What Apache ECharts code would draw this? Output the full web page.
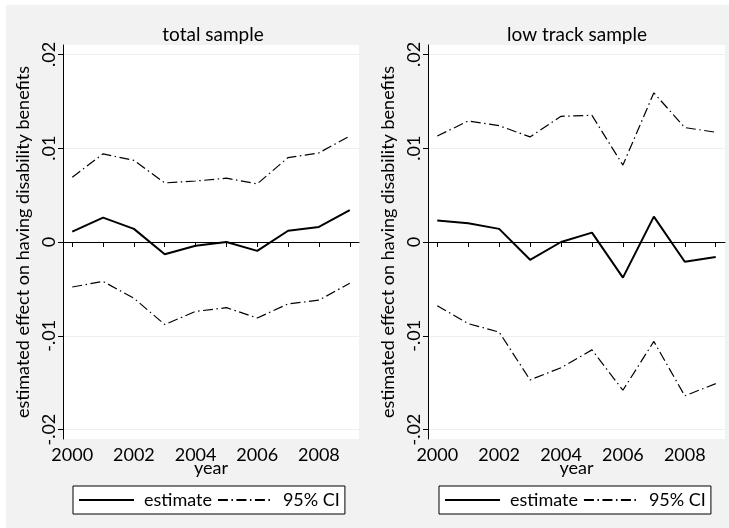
<!DOCTYPE html>
<html>
<head>
<meta charset="utf-8">
<script src="https://cdn.jsdelivr.net/npm/echarts@6/dist/echarts.min.js"></script>
<style>
html,body{margin:0;padding:0;background:#fff;}
#c{width:729px;height:528px;}
</style>
</head>
<body>
<div id="c"></div>
<script>
var years = [2000, 2001, 2002, 2003, 2004, 2005, 2006, 2007, 2008, 2009];
var xTickYears = [2000, 2001, 2002, 2003, 2004, 2005, 2006, 2007, 2008, 2009];
var xLabelYears = [2000, 2002, 2004, 2006, 2008];
var yTicks = [-0.02, -0.01, 0, 0.01, 0.02];
var panelTitles = ['total sample', 'low track sample'];
var legendNames = ['estimate', '95% CI'];

var totalEst   = [0.0011, 0.0026, 0.0014, -0.0013, -0.0004, 0.0000, -0.00095, 0.0012, 0.0016, 0.0034];
var totalUpper = [0.0069, 0.0094, 0.0087, 0.0063, 0.0065, 0.0068, 0.0062, 0.0090, 0.0095, 0.0113];
var totalLower = [-0.0048, -0.0042, -0.0060, -0.0088, -0.0074, -0.0070, -0.0081, -0.0066, -0.0062, -0.0044];

var lowEst   = [0.0023, 0.0020, 0.0014, -0.0019, 0.0000, 0.0010, -0.0038, 0.0027, -0.0021, -0.0016];
var lowUpper = [0.0113, 0.0129, 0.0124, 0.0112, 0.0134, 0.0135, 0.0082, 0.0159, 0.0122, 0.0117];
var lowLower = [-0.0068, -0.0087, -0.0096, -0.0147, -0.0134, -0.0115, -0.0158, -0.0106, -0.0164, -0.0151];

var FONT = 'Lato';
var FS = 18;

function pairs(vals) {
  return years.map(function (y, i) { return [y, vals[i]]; });
}
function yFmt(v) {
  if (Math.abs(v) < 1e-9) return '0';
  return (v < 0 ? '-' : '') + Math.abs(v).toFixed(2).replace(/^0/, '');
}

var grids = [
  {left: 63, top: 45, width: 296, height: 394},
  {left: 428, top: 45, width: 297, height: 394}
];

function xAxisFor(i) {
  return {
    type: 'value', gridIndex: i, min: 1999.7, max: 2009.3,
    name: 'year', nameLocation: 'middle', nameGap: 20, nameMoveOverlap: false,
    nameTextStyle: {fontFamily: FONT, fontSize: FS, color: '#000'},
    axisLine: {show: true, lineStyle: {color: '#000', width: 1}},
    axisTick: {show: true, length: 5, lineStyle: {color: '#000'}, customValues: xTickYears},
    axisLabel: {customValues: xLabelYears, fontFamily: FONT, fontSize: FS, color: '#000', margin: 7,
      formatter: function (v) { return String(Math.round(v)); }},
    splitLine: {show: false}
  };
}
function yAxisFor(i) {
  return {
    type: 'value', gridIndex: i, min: -0.021, max: 0.021,
    name: 'estimated effect on having disability benefits', nameLocation: 'middle', nameGap: 31,
    nameRotate: 90, nameMoveOverlap: false,
    nameTextStyle: {fontFamily: FONT, fontSize: FS, color: '#000'},
    axisLine: {show: true, lineStyle: {color: '#000', width: 1}},
    axisTick: {show: true, length: 5, lineStyle: {color: '#000'}, customValues: yTicks},
    axisLabel: {customValues: yTicks, rotate: 90, fontFamily: FONT, fontSize: FS, color: '#000', margin: 5,
      formatter: yFmt},
    splitLine: {show: true, lineStyle: {color: '#efefef', width: 1}}
  };
}

var solid = {color: '#000', width: 2, type: 'solid'};
var dashdot = {color: '#000', width: 1.2, type: [10, 3.5, 1.5, 3.5]};

function lineSeries(name, data, idx, style) {
  return {
    type: 'line', name: name, xAxisIndex: idx, yAxisIndex: idx,
    data: pairs(data), symbol: 'none', lineStyle: style,
    itemStyle: {color: '#000'},
    silent: true, animation: false
  };
}

function legendFor(left) {
  return {
    data: legendNames, left: left, top: 486, orient: 'horizontal',
    itemWidth: 55, itemHeight: 14, itemGap: 5,
    padding: [5, 5, 5, 5],
    borderColor: '#000', borderWidth: 1, backgroundColor: '#fff', borderRadius: 0,
    itemStyle: {opacity: 0},
    textStyle: {fontFamily: FONT, fontSize: FS, color: '#000', padding: [0, 0, 0, 5]},
    selectedMode: false
  };
}

var chart = echarts.init(document.getElementById('c'), null, {renderer: 'canvas'});
chart.setOption({
  animation: false,
  backgroundColor: '#fff',
  graphic: [{type: 'rect', shape: {x: 6, y: 5, width: 730, height: 530}, style: {fill: '#f2f2f2'}, z: -10, silent: true}],
  title: [
    {text: panelTitles[0], left: 208, top: 20, textAlign: 'center',
      textStyle: {fontFamily: FONT, fontSize: 19, fontWeight: 'normal', color: '#000'}},
    {text: panelTitles[1], left: 572, top: 20, textAlign: 'center',
      textStyle: {fontFamily: FONT, fontSize: 19, fontWeight: 'normal', color: '#000'}}
  ],
  legend: [legendFor(73), legendFor(439)],
  grid: grids.map(function (g) {
    return {left: g.left, top: g.top, width: g.width, height: g.height, show: true,
      backgroundColor: '#fff', borderWidth: 0, containLabel: false};
  }),
  xAxis: [xAxisFor(0), xAxisFor(1)],
  yAxis: [yAxisFor(0), yAxisFor(1)],
  series: [
    lineSeries(legendNames[0], totalEst, 0, solid),
    lineSeries(legendNames[1], totalUpper, 0, dashdot),
    lineSeries(legendNames[1], totalLower, 0, dashdot),
    lineSeries(legendNames[0], lowEst, 1, solid),
    lineSeries(legendNames[1], lowUpper, 1, dashdot),
    lineSeries(legendNames[1], lowLower, 1, dashdot)
  ]
});
</script>
</body>
</html>
